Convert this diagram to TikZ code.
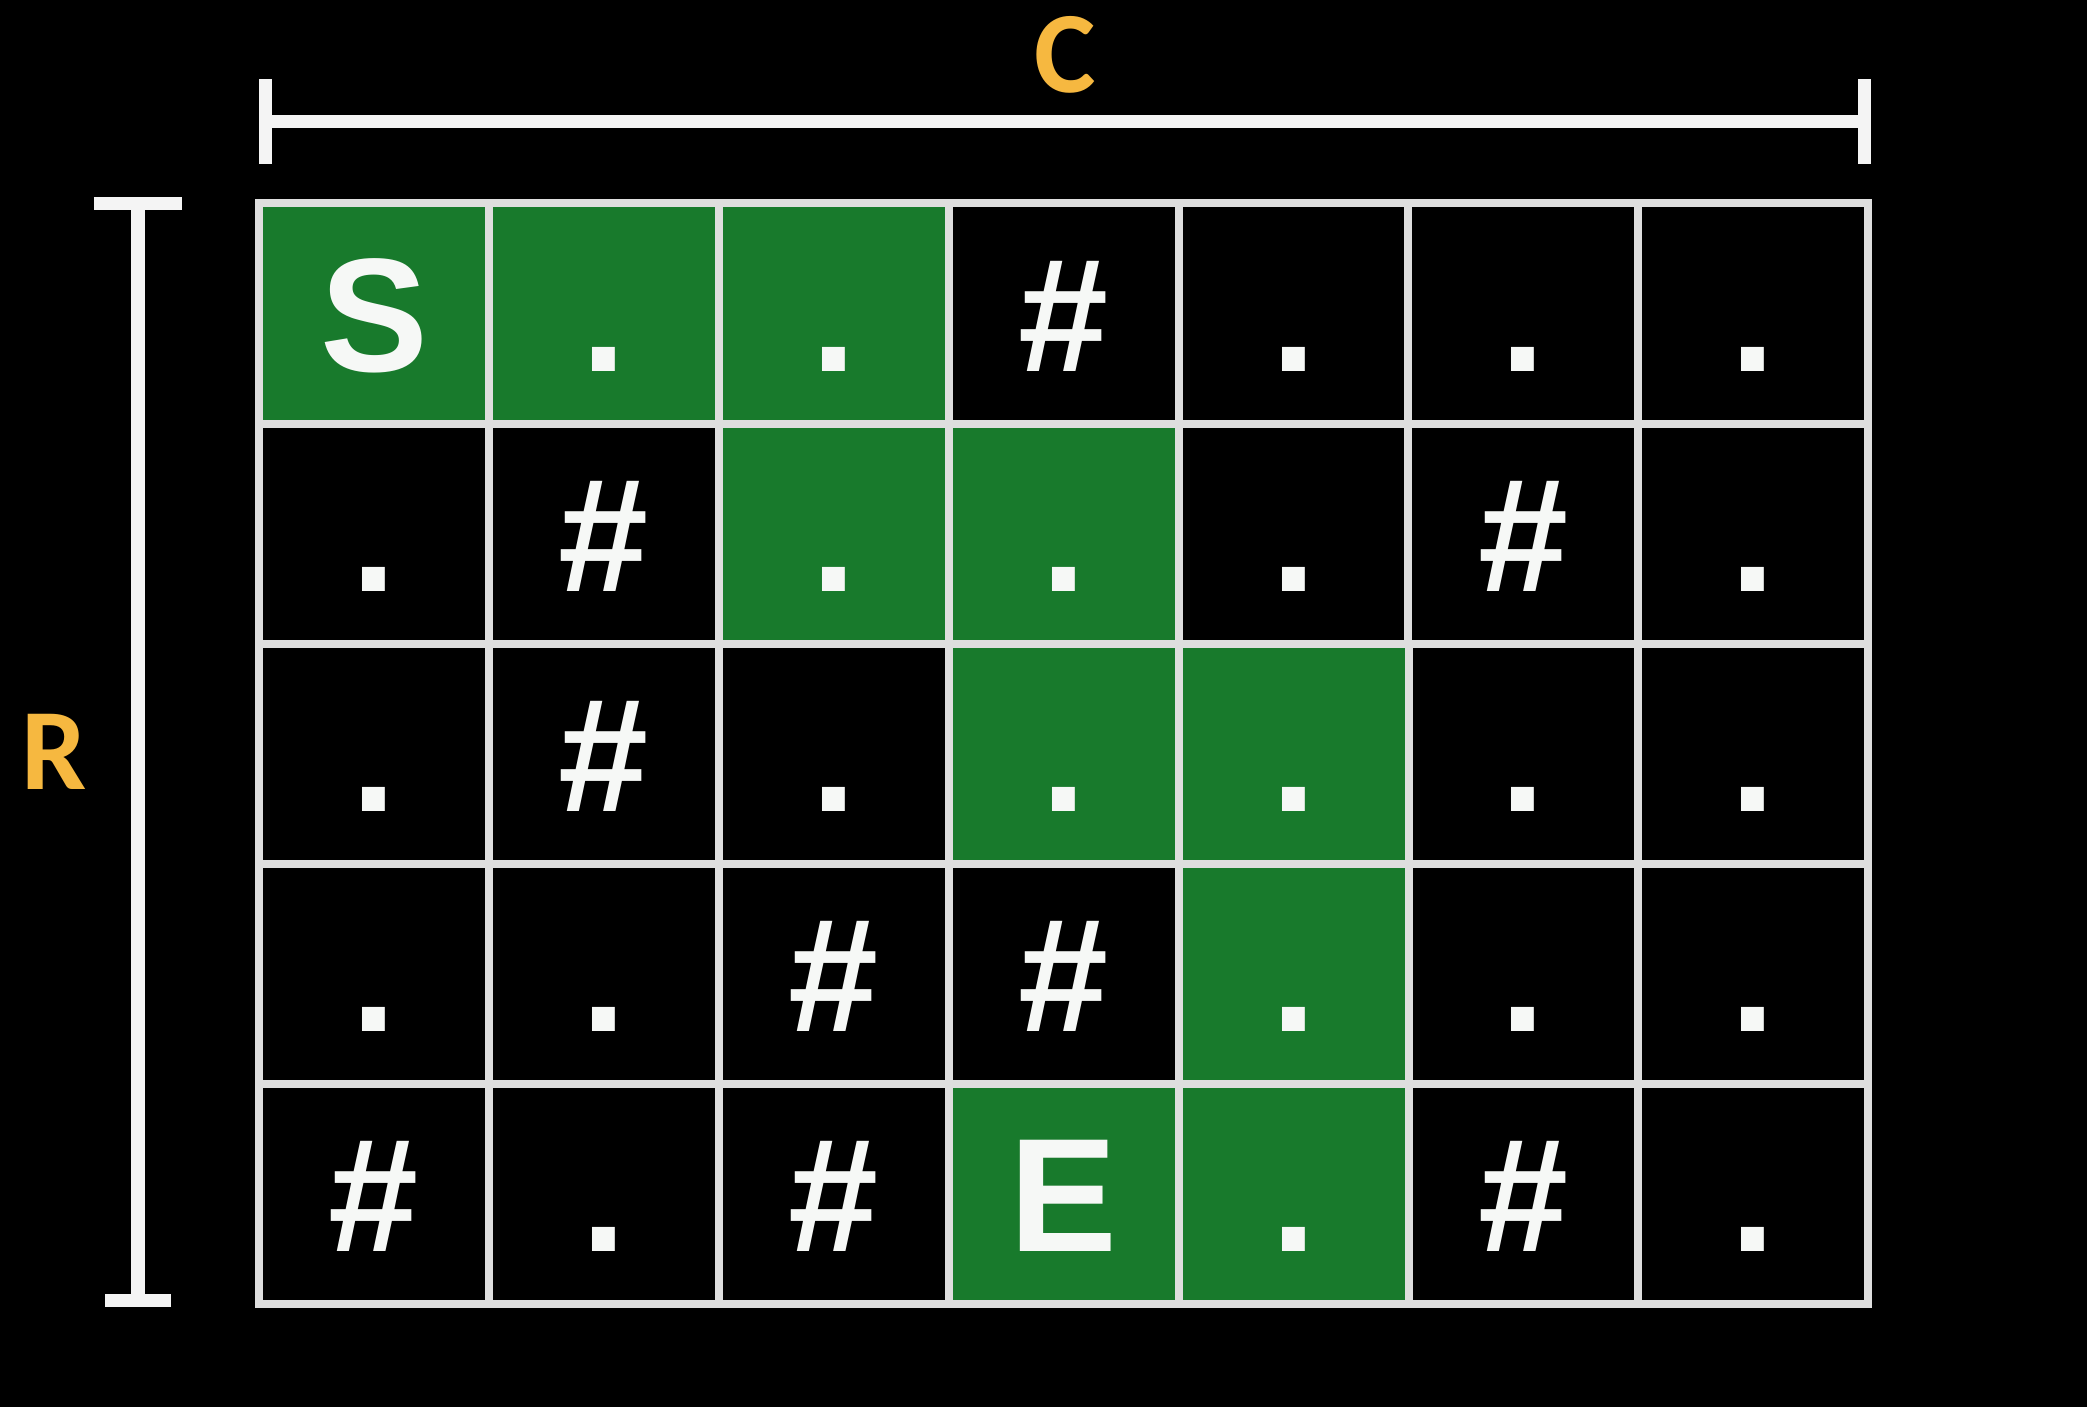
\documentclass[tikz,border=0pt]{standalone}
\usepackage{fontspec}
\usetikzlibrary{arrows.meta}
\newfontfamily\cellfont{Liberation Sans}
\newfontfamily\labelfont{Carlito}
\definecolor{bgBlack}{RGB}{0,0,0}
\definecolor{gridLineColor}{RGB}{222,222,222}
\definecolor{pathGreen}{RGB}{24,122,44}
\definecolor{symbolColor}{RGB}{246,248,246}
\definecolor{labelOrange}{RGB}{246,184,64}
\definecolor{dimLineColor}{RGB}{244,244,244}
\tikzset{
	cellBox/.style = {
		draw = gridLineColor, line width = 0.08cm, fill = bgBlack,
		minimum width = 2.299cm, minimum height = 2.201cm,
		inner sep = 0pt, outer sep = 0pt
	},
	pathCell/.style = {
		cellBox, fill = pathGreen
	},
	cellSymbol/.style = {
		text = symbolColor, font = \cellfont\bfseries\fontsize{46}{46}\selectfont,
		text height = 1.16cm, text depth = 0pt, inner sep = 0pt
	},
	dimLabel/.style = {
		text = labelOrange, font = \labelfont\bfseries\fontsize{33}{33}\selectfont,
		inner sep = 0pt, outer sep = 0pt
	},
	dimLine/.style = {
		draw = dimLineColor, line width = 0.13cm
	}
}

\begin{document}
\begin{tikzpicture}[x=0.01cm, y=-0.01cm]

	\useasboundingbox (0,0) rectangle (2087,1407);
	\fill [bgBlack] (0,0) rectangle (2087,1407);

	% grid of cells
	\foreach \r in {0,...,4}
		\foreach \c in {0,...,6}
			\node [cellBox] (cell-\r-\c) at ({259+229.9*(\c+0.5)}, {203.5+220.1*(\r+0.5)}) {};

	% path from S to E
	\foreach \r/\c in {0/0, 0/1, 0/2, 1/2, 1/3, 2/3, 2/4, 3/4, 4/4, 4/3}
		\node [pathCell] (path-\r-\c) at (cell-\r-\c) {};

	\foreach \s [count=\c from 0] in {S,.,.,\#,.,.,.}
		\node [cellSymbol] (sym-0-\c) at (cell-0-\c) {\s};
	\foreach \s [count=\c from 0] in {.,\#,.,.,.,\#,.}
		\node [cellSymbol] (sym-1-\c) at (cell-1-\c) {\s};
	\foreach \s [count=\c from 0] in {.,\#,.,.,.,.,.}
		\node [cellSymbol] (sym-2-\c) at (cell-2-\c) {\s};
	\foreach \s [count=\c from 0] in {.,.,\#,\#,.,.,.}
		\node [cellSymbol] (sym-3-\c) at (cell-3-\c) {\s};
	\foreach \s [count=\c from 0] in {\#,.,\#,E,.,\#,.}
		\node [cellSymbol] (sym-4-\c) at (cell-4-\c) {\s};

	% dimensions
	\coordinate (colStart) at (259,121.5);
	\coordinate (colEnd) at (1871,121.5);
	\coordinate (rowStart) at (138,197);
	\coordinate (rowEnd) at (138,1307);

	\draw [dimLine, {Bar[width=0.84cm]}-{Bar[width=0.84cm]}] (colStart) to node [dimLabel, above=0.28cm] (labelC) {C} (colEnd);
	\draw [dimLine, {Bar[width=0.88cm]}-{Bar[width=0.66cm]}] (rowStart) to node [dimLabel, left=0.51cm] (labelR) {R} (rowEnd);
\end{tikzpicture}
\end{document}
